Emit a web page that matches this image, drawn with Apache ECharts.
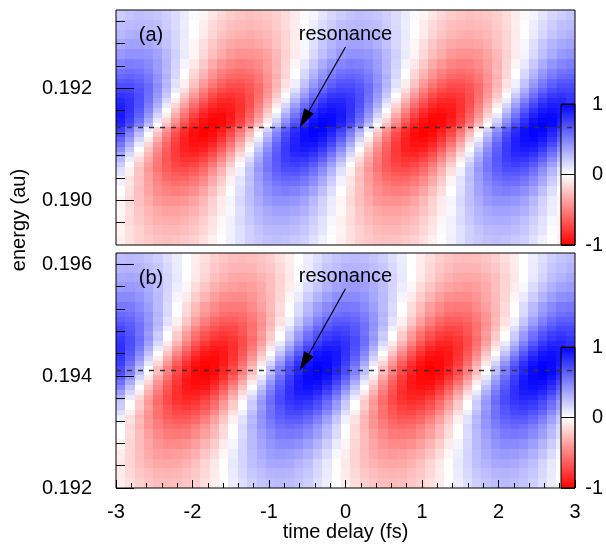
<!DOCTYPE html>
<html>
<head>
<meta charset="utf-8">
<title>Transient absorption near resonance</title>
<script src="https://cdn.jsdelivr.net/npm/echarts@6/dist/echarts.min.js"></script>
<style>
  html, body { margin: 0; padding: 0; background: #fff; }
  #chart { width: 606px; height: 548px; }
</style>
</head>
<body>
<div id="chart"></div>
<script>
// ---- data -------------------------------------------------------------
// time delay axis (fs)
const delayRange = [-3, 3];

// panel (a): delay samples (fs), energy samples (au, finer near the resonance)
// and the normalised signal, one row per energy sample (bottom to top)
const delaysA = [-2.94,-2.82,-2.70,-2.58,-2.46,-2.34,-2.22,-2.10,-1.98,-1.86,-1.74,-1.62,-1.50,-1.38,-1.26,-1.14,-1.02,-0.90,-0.78,-0.66,-0.54,-0.42,-0.30,-0.18,-0.06,0.06,0.18,0.30,0.42,0.54,0.66,0.78,0.90,1.02,1.14,1.26,1.38,1.50,1.62,1.74,1.86,1.98,2.10,2.22,2.34,2.46,2.58,2.70,2.82,2.94];
const energiesA = [0.1892875,0.1894625,0.1896375,0.1898125,0.1899875,0.1901625,
  0.19029375,0.19038125,0.19046875,0.19055625,0.19064375,0.19073125,0.19081875,0.19090625,0.19099375,0.19108125,0.19116875,0.19125625,
  0.19134375,0.19143125,0.19151875,0.19160625,0.19169375,0.19178125,0.19186875,0.19195625,0.19204375,0.19213125,0.19221875,0.19230625,
  0.1924375,0.1926125,0.1927875,0.1929625,0.1931375,0.1933125];
const energyRangeA = [0.1892, 0.1934];
const resonanceA = 0.1913;
const signalA = [
  [-.06,-.12,-.18,-.21,-.24,-.25,-.24,-.21,-.18,-.12,-.06,0,.06,.12,.18,.21,.24,.25,.24,.21,.18,.12,.06,0,-.06,-.12,-.18,-.21,-.24,-.25,-.24,-.21,-.18,-.12,-.06,0,.06,.12,.18,.21,.24,.25,.24,.21,.18,.12,.06,0,-.06,-.12],
  [-.05,-.12,-.18,-.23,-.27,-.28,-.28,-.26,-.22,-.16,-.10,-.02,.05,.12,.18,.23,.27,.28,.28,.26,.22,.16,.10,.02,-.05,-.12,-.18,-.23,-.27,-.28,-.28,-.26,-.22,-.16,-.10,-.02,.05,.12,.18,.23,.27,.28,.28,.26,.22,.16,.10,.02,-.05,-.12],
  [-.06,-.14,-.21,-.27,-.31,-.32,-.32,-.30,-.25,-.19,-.11,-.03,.06,.14,.21,.27,.31,.32,.32,.30,.25,.19,.11,.03,-.06,-.14,-.21,-.27,-.31,-.32,-.32,-.30,-.25,-.19,-.11,-.03,.06,.14,.21,.27,.31,.32,.32,.30,.25,.19,.11,.03,-.06,-.14],
  [-.03,-.13,-.22,-.29,-.34,-.37,-.37,-.35,-.31,-.24,-.16,-.07,.03,.13,.22,.29,.34,.37,.37,.35,.31,.24,.16,.07,-.03,-.13,-.22,-.29,-.34,-.37,-.37,-.35,-.31,-.24,-.16,-.07,.03,.13,.22,.29,.34,.37,.37,.35,.31,.24,.16,.07,-.03,-.13],
  [-.04,-.15,-.25,-.33,-.40,-.43,-.43,-.41,-.36,-.28,-.18,-.08,.04,.15,.25,.33,.40,.43,.43,.41,.36,.28,.18,.08,-.04,-.15,-.25,-.33,-.40,-.43,-.43,-.41,-.36,-.28,-.18,-.08,.04,.15,.25,.33,.40,.43,.43,.41,.36,.28,.18,.08,-.04,-.15],
  [0,-.13,-.25,-.36,-.44,-.49,-.51,-.49,-.44,-.36,-.25,-.13,0,.13,.25,.36,.44,.49,.51,.49,.44,.36,.25,.13,0,-.13,-.25,-.36,-.44,-.49,-.51,-.49,-.44,-.36,-.25,-.13,0,.13,.25,.36,.44,.49,.51,.49,.44,.36,.25,.13,0,-.13],
  [.05,-.10,-.24,-.37,-.47,-.53,-.57,-.56,-.52,-.44,-.33,-.19,-.05,.10,.24,.37,.47,.53,.57,.56,.52,.44,.33,.19,.05,-.10,-.24,-.37,-.47,-.53,-.57,-.56,-.52,-.44,-.33,-.19,-.05,.10,.24,.37,.47,.53,.57,.56,.52,.44,.33,.19,.05,-.10],
  [.05,-.11,-.26,-.39,-.50,-.58,-.61,-.60,-.55,-.47,-.35,-.21,-.05,.11,.26,.39,.50,.58,.61,.60,.55,.47,.35,.21,.05,-.11,-.26,-.39,-.50,-.58,-.61,-.60,-.55,-.47,-.35,-.21,-.05,.11,.26,.39,.50,.58,.61,.60,.55,.47,.35,.21,.05,-.11],
  [.11,-.06,-.23,-.38,-.50,-.60,-.65,-.66,-.62,-.54,-.42,-.28,-.11,.06,.23,.38,.50,.60,.65,.66,.62,.54,.42,.28,.11,-.06,-.23,-.38,-.50,-.60,-.65,-.66,-.62,-.54,-.42,-.28,-.11,.06,.23,.38,.50,.60,.65,.66,.62,.54,.42,.28,.11,-.06],
  [.12,-.06,-.24,-.41,-.54,-.64,-.70,-.70,-.66,-.58,-.45,-.30,-.12,.06,.24,.41,.54,.64,.70,.70,.66,.58,.45,.30,.12,-.06,-.24,-.41,-.54,-.64,-.70,-.70,-.66,-.58,-.45,-.30,-.12,.06,.24,.41,.54,.64,.70,.70,.66,.58,.45,.30,.12,-.06],
  [.20,0,-.20,-.38,-.53,-.65,-.73,-.76,-.73,-.65,-.53,-.38,-.20,0,.20,.38,.53,.65,.73,.76,.73,.65,.53,.38,.20,0,-.20,-.38,-.53,-.65,-.73,-.76,-.73,-.65,-.53,-.38,-.20,0,.20,.38,.53,.65,.73,.76,.73,.65,.53,.38,.20,0],
  [.28,.07,-.14,-.34,-.52,-.66,-.76,-.80,-.79,-.73,-.62,-.46,-.28,-.07,.14,.34,.52,.66,.76,.80,.79,.73,.62,.46,.28,.07,-.14,-.34,-.52,-.66,-.76,-.80,-.79,-.73,-.62,-.46,-.28,-.07,.14,.34,.52,.66,.76,.80,.79,.73,.62,.46,.28,.07],
  [.36,.15,-.07,-.29,-.49,-.65,-.77,-.84,-.85,-.80,-.70,-.55,-.36,-.15,.07,.29,.49,.65,.77,.84,.85,.80,.70,.55,.36,.15,-.07,-.29,-.49,-.65,-.77,-.84,-.85,-.80,-.70,-.55,-.36,-.15,.07,.29,.49,.65,.77,.84,.85,.80,.70,.55,.36,.15],
  [.45,.23,0,-.23,-.45,-.63,-.78,-.87,-.90,-.87,-.78,-.63,-.45,-.23,0,.23,.45,.63,.78,.87,.90,.87,.78,.63,.45,.23,0,-.23,-.45,-.63,-.78,-.87,-.90,-.87,-.78,-.63,-.45,-.23,0,.23,.45,.63,.78,.87,.90,.87,.78,.63,.45,.23],
  [.54,.32,.08,-.16,-.40,-.60,-.77,-.88,-.93,-.92,-.85,-.72,-.54,-.32,-.08,.16,.40,.60,.77,.88,.93,.92,.85,.72,.54,.32,.08,-.16,-.40,-.60,-.77,-.88,-.93,-.92,-.85,-.72,-.54,-.32,-.08,.16,.40,.60,.77,.88,.93,.92,.85,.72,.54,.32],
  [.62,.41,.17,-.08,-.33,-.55,-.74,-.87,-.95,-.96,-.91,-.79,-.62,-.41,-.17,.08,.33,.55,.74,.87,.95,.96,.91,.79,.62,.41,.17,-.08,-.33,-.55,-.74,-.87,-.95,-.96,-.91,-.79,-.62,-.41,-.17,.08,.33,.55,.74,.87,.95,.96,.91,.79,.62,.41],
  [.70,.49,.26,0,-.26,-.49,-.70,-.85,-.95,-.99,-.95,-.85,-.70,-.49,-.26,0,.26,.49,.70,.85,.95,.99,.95,.85,.70,.49,.26,0,-.26,-.49,-.70,-.85,-.95,-.99,-.95,-.85,-.70,-.49,-.26,0,.26,.49,.70,.85,.95,.99,.95,.85,.70,.49],
  [.76,.57,.34,.09,-.17,-.42,-.64,-.82,-.94,-.99,-.98,-.90,-.76,-.57,-.34,-.09,.17,.42,.64,.82,.94,.99,.98,.90,.76,.57,.34,.09,-.17,-.42,-.64,-.82,-.94,-.99,-.98,-.90,-.76,-.57,-.34,-.09,.17,.42,.64,.82,.94,.99,.98,.90,.76,.57],
  [.86,.71,.50,.26,0,-.26,-.50,-.71,-.86,-.96,-1,-.96,-.86,-.71,-.50,-.26,0,.26,.50,.71,.86,.96,1,.96,.86,.71,.50,.26,0,-.26,-.50,-.71,-.86,-.96,-1,-.96,-.86,-.71,-.50,-.26,0,.26,.50,.71,.86,.96,1,.96,.86,.71],
  [.89,.76,.57,.34,.09,-.17,-.42,-.63,-.81,-.93,-.98,-.97,-.89,-.76,-.57,-.34,-.09,.17,.42,.63,.81,.93,.98,.97,.89,.76,.57,.34,.09,-.17,-.42,-.63,-.81,-.93,-.98,-.97,-.89,-.76,-.57,-.34,-.09,.17,.42,.63,.81,.93,.98,.97,.89,.76],
  [.91,.79,.62,.41,.17,-.08,-.33,-.55,-.74,-.87,-.95,-.96,-.91,-.79,-.62,-.41,-.17,.08,.33,.55,.74,.87,.95,.96,.91,.79,.62,.41,.17,-.08,-.33,-.55,-.74,-.87,-.95,-.96,-.91,-.79,-.62,-.41,-.17,.08,.33,.55,.74,.87,.95,.96,.91,.79],
  [.90,.81,.66,.47,.24,0,-.24,-.47,-.66,-.81,-.90,-.93,-.90,-.81,-.66,-.47,-.24,0,.24,.47,.66,.81,.90,.93,.90,.81,.66,.47,.24,0,-.24,-.47,-.66,-.81,-.90,-.93,-.90,-.81,-.66,-.47,-.24,0,.24,.47,.66,.81,.90,.93,.90,.81],
  [.88,.81,.69,.51,.31,.08,-.16,-.38,-.58,-.73,-.84,-.89,-.88,-.81,-.69,-.51,-.31,-.08,.16,.38,.58,.73,.84,.89,.88,.81,.69,.51,.31,.08,-.16,-.38,-.58,-.73,-.84,-.89,-.88,-.81,-.69,-.51,-.31,-.08,.16,.38,.58,.73,.84,.89,.88,.81],
  [.85,.80,.70,.55,.36,.15,-.07,-.29,-.49,-.65,-.77,-.84,-.85,-.80,-.70,-.55,-.36,-.15,.07,.29,.49,.65,.77,.84,.85,.80,.70,.55,.36,.15,-.07,-.29,-.49,-.65,-.77,-.84,-.85,-.80,-.70,-.55,-.36,-.15,.07,.29,.49,.65,.77,.84,.85,.80],
  [.80,.78,.70,.57,.40,.21,0,-.21,-.40,-.57,-.70,-.78,-.80,-.78,-.70,-.57,-.40,-.21,0,.21,.40,.57,.70,.78,.80,.78,.70,.57,.40,.21,0,-.21,-.40,-.57,-.70,-.78,-.80,-.78,-.70,-.57,-.40,-.21,0,.21,.40,.57,.70,.78,.80,.78],
  [.75,.74,.68,.58,.43,.26,.07,-.13,-.32,-.49,-.62,-.71,-.75,-.74,-.68,-.58,-.43,-.26,-.07,.13,.32,.49,.62,.71,.75,.74,.68,.58,.43,.26,.07,-.13,-.32,-.49,-.62,-.71,-.75,-.74,-.68,-.58,-.43,-.26,-.07,.13,.32,.49,.62,.71,.75,.74],
  [.70,.70,.66,.58,.45,.30,.12,-.06,-.24,-.41,-.54,-.64,-.70,-.70,-.66,-.58,-.45,-.30,-.12,.06,.24,.41,.54,.64,.70,.70,.66,.58,.45,.30,.12,-.06,-.24,-.41,-.54,-.64,-.70,-.70,-.66,-.58,-.45,-.30,-.12,.06,.24,.41,.54,.64,.70,.70],
  [.65,.66,.62,.54,.42,.28,.11,-.06,-.23,-.38,-.50,-.60,-.65,-.66,-.62,-.54,-.42,-.28,-.11,.06,.23,.38,.50,.60,.65,.66,.62,.54,.42,.28,.11,-.06,-.23,-.38,-.50,-.60,-.65,-.66,-.62,-.54,-.42,-.28,-.11,.06,.23,.38,.50,.60,.65,.66],
  [.59,.61,.59,.53,.43,.31,.16,0,-.16,-.31,-.43,-.53,-.59,-.61,-.59,-.53,-.43,-.31,-.16,0,.16,.31,.43,.53,.59,.61,.59,.53,.43,.31,.16,0,-.16,-.31,-.43,-.53,-.59,-.61,-.59,-.53,-.43,-.31,-.16,0,.16,.31,.43,.53,.59,.61],
  [.55,.57,.55,.49,.40,.28,.15,0,-.15,-.28,-.40,-.49,-.55,-.57,-.55,-.49,-.40,-.28,-.15,0,.15,.28,.40,.49,.55,.57,.55,.49,.40,.28,.15,0,-.15,-.28,-.40,-.49,-.55,-.57,-.55,-.49,-.40,-.28,-.15,0,.15,.28,.40,.49,.55,.57],
  [.48,.51,.50,.46,.39,.29,.17,.04,-.09,-.21,-.33,-.42,-.48,-.51,-.50,-.46,-.39,-.29,-.17,-.04,.09,.21,.33,.42,.48,.51,.50,.46,.39,.29,.17,.04,-.09,-.21,-.33,-.42,-.48,-.51,-.50,-.46,-.39,-.29,-.17,-.04,.09,.21,.33,.42,.48,.51],
  [.40,.43,.43,.41,.36,.28,.18,.08,-.04,-.15,-.25,-.33,-.40,-.43,-.43,-.41,-.36,-.28,-.18,-.08,.04,.15,.25,.33,.40,.43,.43,.41,.36,.28,.18,.08,-.04,-.15,-.25,-.33,-.40,-.43,-.43,-.41,-.36,-.28,-.18,-.08,.04,.15,.25,.33,.40,.43],
  [.34,.37,.37,.35,.31,.24,.16,.07,-.03,-.13,-.22,-.29,-.34,-.37,-.37,-.35,-.31,-.24,-.16,-.07,.03,.13,.22,.29,.34,.37,.37,.35,.31,.24,.16,.07,-.03,-.13,-.22,-.29,-.34,-.37,-.37,-.35,-.31,-.24,-.16,-.07,.03,.13,.22,.29,.34,.37],
  [.28,.31,.33,.31,.28,.23,.16,.08,0,-.08,-.16,-.23,-.28,-.31,-.33,-.31,-.28,-.23,-.16,-.08,0,.08,.16,.23,.28,.31,.33,.31,.28,.23,.16,.08,0,-.08,-.16,-.23,-.28,-.31,-.33,-.31,-.28,-.23,-.16,-.08,0,.08,.16,.23,.28,.31],
  [.25,.27,.28,.27,.25,.20,.14,.07,0,-.07,-.14,-.20,-.25,-.27,-.28,-.27,-.25,-.20,-.14,-.07,0,.07,.14,.20,.25,.27,.28,.27,.25,.20,.14,.07,0,-.07,-.14,-.20,-.25,-.27,-.28,-.27,-.25,-.20,-.14,-.07,0,.07,.14,.20,.25,.27],
  [.20,.23,.25,.24,.22,.19,.14,.08,.02,-.04,-.10,-.16,-.20,-.23,-.25,-.24,-.22,-.19,-.14,-.08,-.02,.04,.10,.16,.20,.23,.25,.24,.22,.19,.14,.08,.02,-.04,-.10,-.16,-.20,-.23,-.25,-.24,-.22,-.19,-.14,-.08,-.02,.04,.10,.16,.20,.23]
];

// panel (b)
const delaysB = [-2.93875,-2.81625,-2.69375,-2.57125,-2.44875,-2.32625,-2.20375,-2.08125,-1.95875,-1.83625,-1.71375,-1.59125,-1.46875,-1.34625,-1.22375,-1.10125,-0.97875,-0.85625,-0.73375,-0.61125,-0.48875,-0.36625,-0.24375,-0.12125,0.00125,0.12375,0.24625,0.36875,0.49125,0.61375,0.73625,0.85875,0.98125,1.10375,1.22625,1.34875,1.47125,1.59375,1.71625,1.83875,1.96125,2.08375,2.20625,2.32875,2.45125,2.57375,2.69625,2.81875,2.94125];
const energiesB = [0.1920875,0.1922625,0.1924375,0.1926125,0.1927875,0.1929625,
  0.19309375,0.19318125,0.19326875,0.19335625,0.19344375,0.19353125,0.19361875,0.19370625,0.19379375,0.19388125,0.19396875,0.19405625,
  0.19414375,0.19423125,0.19431875,0.19440625,0.19449375,0.19458125,0.19466875,0.19475625,0.19484375,0.19493125,0.19501875,0.19510625,
  0.1952375,0.1954125,0.1955875,0.1957625,0.1959375,0.1961125];
const energyRangeB = [0.1920, 0.1962];
const resonanceB = 0.1941;
const signalB = [
  [-.07,-.13,-.19,-.23,-.26,-.27,-.26,-.23,-.19,-.13,-.07,0,.07,.13,.19,.23,.26,.27,.26,.23,.19,.13,.07,0,-.07,-.13,-.19,-.23,-.26,-.27,-.26,-.23,-.19,-.13,-.07,0,.07,.13,.19,.23,.26,.27,.26,.23,.19,.13,.07,0,-.07],
  [-.08,-.15,-.22,-.26,-.29,-.30,-.29,-.26,-.22,-.15,-.08,0,.08,.15,.22,.26,.29,.30,.29,.26,.22,.15,.08,0,-.08,-.15,-.22,-.26,-.29,-.30,-.29,-.26,-.22,-.15,-.08,0,.08,.15,.22,.26,.29,.30,.29,.26,.22,.15,.08,0,-.08],
  [-.09,-.17,-.25,-.30,-.34,-.35,-.34,-.30,-.25,-.17,-.09,0,.09,.17,.25,.30,.34,.35,.34,.30,.25,.17,.09,0,-.09,-.17,-.25,-.30,-.34,-.35,-.34,-.30,-.25,-.17,-.09,0,.09,.17,.25,.30,.34,.35,.34,.30,.25,.17,.09,0,-.09],
  [-.07,-.17,-.26,-.33,-.38,-.40,-.39,-.36,-.31,-.23,-.14,-.03,.07,.17,.26,.33,.38,.40,.39,.36,.31,.23,.14,.03,-.07,-.17,-.26,-.33,-.38,-.40,-.39,-.36,-.31,-.23,-.14,-.03,.07,.17,.26,.33,.38,.40,.39,.36,.31,.23,.14,.03,-.07],
  [-.04,-.16,-.27,-.35,-.42,-.46,-.46,-.44,-.38,-.30,-.20,-.08,.04,.16,.27,.35,.42,.46,.46,.44,.38,.30,.20,.08,-.04,-.16,-.27,-.35,-.42,-.46,-.46,-.44,-.38,-.30,-.20,-.08,.04,.16,.27,.35,.42,.46,.46,.44,.38,.30,.20,.08,-.04],
  [0,-.14,-.27,-.38,-.46,-.52,-.53,-.52,-.46,-.38,-.27,-.14,0,.14,.27,.38,.46,.52,.53,.52,.46,.38,.27,.14,0,-.14,-.27,-.38,-.46,-.52,-.53,-.52,-.46,-.38,-.27,-.14,0,.14,.27,.38,.46,.52,.53,.52,.46,.38,.27,.14,0],
  [0,-.15,-.30,-.42,-.51,-.57,-.59,-.57,-.51,-.42,-.30,-.15,0,.15,.30,.42,.51,.57,.59,.57,.51,.42,.30,.15,0,-.15,-.30,-.42,-.51,-.57,-.59,-.57,-.51,-.42,-.30,-.15,0,.15,.30,.42,.51,.57,.59,.57,.51,.42,.30,.15,0],
  [.06,-.11,-.27,-.41,-.52,-.60,-.63,-.63,-.58,-.49,-.37,-.22,-.06,.11,.27,.41,.52,.60,.63,.63,.58,.49,.37,.22,.06,-.11,-.27,-.41,-.52,-.60,-.63,-.63,-.58,-.49,-.37,-.22,-.06,.11,.27,.41,.52,.60,.63,.63,.58,.49,.37,.22,.06],
  [.06,-.12,-.29,-.44,-.56,-.64,-.68,-.67,-.62,-.52,-.39,-.23,-.06,.12,.29,.44,.56,.64,.68,.67,.62,.52,.39,.23,.06,-.12,-.29,-.44,-.56,-.64,-.68,-.67,-.62,-.52,-.39,-.23,-.06,.12,.29,.44,.56,.64,.68,.67,.62,.52,.39,.23,.06],
  [.13,-.06,-.25,-.42,-.56,-.66,-.72,-.73,-.68,-.60,-.47,-.31,-.13,.06,.25,.42,.56,.66,.72,.73,.68,.60,.47,.31,.13,-.06,-.25,-.42,-.56,-.66,-.72,-.73,-.68,-.60,-.47,-.31,-.13,.06,.25,.42,.56,.66,.72,.73,.68,.60,.47,.31,.13],
  [.20,0,-.20,-.39,-.55,-.67,-.75,-.78,-.75,-.67,-.55,-.39,-.20,0,.20,.39,.55,.67,.75,.78,.75,.67,.55,.39,.20,0,-.20,-.39,-.55,-.67,-.75,-.78,-.75,-.67,-.55,-.39,-.20,0,.20,.39,.55,.67,.75,.78,.75,.67,.55,.39,.20],
  [.21,0,-.21,-.41,-.58,-.71,-.79,-.82,-.79,-.71,-.58,-.41,-.21,0,.21,.41,.58,.71,.79,.82,.79,.71,.58,.41,.21,0,-.21,-.41,-.58,-.71,-.79,-.82,-.79,-.71,-.58,-.41,-.21,0,.21,.41,.58,.71,.79,.82,.79,.71,.58,.41,.21],
  [.30,.08,-.15,-.37,-.56,-.71,-.81,-.86,-.85,-.78,-.66,-.50,-.30,-.08,.15,.37,.56,.71,.81,.86,.85,.78,.66,.50,.30,.08,-.15,-.37,-.56,-.71,-.81,-.86,-.85,-.78,-.66,-.50,-.30,-.08,.15,.37,.56,.71,.81,.86,.85,.78,.66,.50,.30],
  [.38,.16,-.08,-.31,-.52,-.69,-.82,-.89,-.90,-.85,-.74,-.58,-.38,-.16,.08,.31,.52,.69,.82,.89,.90,.85,.74,.58,.38,.16,-.08,-.31,-.52,-.69,-.82,-.89,-.90,-.85,-.74,-.58,-.38,-.16,.08,.31,.52,.69,.82,.89,.90,.85,.74,.58,.38],
  [.47,.24,0,-.24,-.47,-.66,-.81,-.91,-.94,-.91,-.81,-.66,-.47,-.24,0,.24,.47,.66,.81,.91,.94,.91,.81,.66,.47,.24,0,-.24,-.47,-.66,-.81,-.91,-.94,-.91,-.81,-.66,-.47,-.24,0,.24,.47,.66,.81,.91,.94,.91,.81,.66,.47],
  [.56,.33,.08,-.17,-.41,-.62,-.79,-.91,-.96,-.95,-.88,-.74,-.56,-.33,-.08,.17,.41,.62,.79,.91,.96,.95,.88,.74,.56,.33,.08,-.17,-.41,-.62,-.79,-.91,-.96,-.95,-.88,-.74,-.56,-.33,-.08,.17,.41,.62,.79,.91,.96,.95,.88,.74,.56],
  [.64,.42,.17,-.09,-.34,-.57,-.76,-.90,-.97,-.98,-.93,-.81,-.64,-.42,-.17,.09,.34,.57,.76,.90,.97,.98,.93,.81,.64,.42,.17,-.09,-.34,-.57,-.76,-.90,-.97,-.98,-.93,-.81,-.64,-.42,-.17,.09,.34,.57,.76,.90,.97,.98,.93,.81,.64],
  [.71,.50,.26,0,-.26,-.50,-.71,-.86,-.96,-1,-.96,-.86,-.71,-.50,-.26,0,.26,.50,.71,.86,.96,1,.96,.86,.71,.50,.26,0,-.26,-.50,-.71,-.86,-.96,-1,-.96,-.86,-.71,-.50,-.26,0,.26,.50,.71,.86,.96,1,.96,.86,.71],
  [.71,.50,.26,0,-.26,-.50,-.71,-.86,-.96,-1,-.96,-.86,-.71,-.50,-.26,0,.26,.50,.71,.86,.96,1,.96,.86,.71,.50,.26,0,-.26,-.50,-.71,-.86,-.96,-1,-.96,-.86,-.71,-.50,-.26,0,.26,.50,.71,.86,.96,1,.96,.86,.71],
  [.76,.57,.34,.09,-.17,-.42,-.64,-.81,-.93,-.98,-.97,-.90,-.76,-.57,-.34,-.09,.17,.42,.64,.81,.93,.98,.97,.90,.76,.57,.34,.09,-.17,-.42,-.64,-.81,-.93,-.98,-.97,-.90,-.76,-.57,-.34,-.09,.17,.42,.64,.81,.93,.98,.97,.90,.76],
  [.79,.62,.41,.17,-.08,-.33,-.56,-.74,-.88,-.95,-.96,-.91,-.79,-.62,-.41,-.17,.08,.33,.56,.74,.88,.95,.96,.91,.79,.62,.41,.17,-.08,-.33,-.56,-.74,-.88,-.95,-.96,-.91,-.79,-.62,-.41,-.17,.08,.33,.56,.74,.88,.95,.96,.91,.79],
  [.81,.66,.47,.24,0,-.24,-.47,-.66,-.81,-.91,-.94,-.91,-.81,-.66,-.47,-.24,0,.24,.47,.66,.81,.91,.94,.91,.81,.66,.47,.24,0,-.24,-.47,-.66,-.81,-.91,-.94,-.91,-.81,-.66,-.47,-.24,0,.24,.47,.66,.81,.91,.94,.91,.81],
  [.82,.69,.52,.31,.08,-.16,-.38,-.58,-.74,-.85,-.90,-.89,-.82,-.69,-.52,-.31,-.08,.16,.38,.58,.74,.85,.90,.89,.82,.69,.52,.31,.08,-.16,-.38,-.58,-.74,-.85,-.90,-.89,-.82,-.69,-.52,-.31,-.08,.16,.38,.58,.74,.85,.90,.89,.82],
  [.81,.71,.56,.37,.15,-.08,-.30,-.50,-.66,-.78,-.85,-.86,-.81,-.71,-.56,-.37,-.15,.08,.30,.50,.66,.78,.85,.86,.81,.71,.56,.37,.15,-.08,-.30,-.50,-.66,-.78,-.85,-.86,-.81,-.71,-.56,-.37,-.15,.08,.30,.50,.66,.78,.85,.86,.81],
  [.79,.71,.58,.41,.21,0,-.21,-.41,-.58,-.71,-.79,-.82,-.79,-.71,-.58,-.41,-.21,0,.21,.41,.58,.71,.79,.82,.79,.71,.58,.41,.21,0,-.21,-.41,-.58,-.71,-.79,-.82,-.79,-.71,-.58,-.41,-.21,0,.21,.41,.58,.71,.79,.82,.79],
  [.75,.67,.55,.39,.20,0,-.20,-.39,-.55,-.67,-.75,-.78,-.75,-.67,-.55,-.39,-.20,0,.20,.39,.55,.67,.75,.78,.75,.67,.55,.39,.20,0,-.20,-.39,-.55,-.67,-.75,-.78,-.75,-.67,-.55,-.39,-.20,0,.20,.39,.55,.67,.75,.78,.75],
  [.72,.66,.56,.42,.25,.06,-.13,-.31,-.47,-.60,-.68,-.73,-.72,-.66,-.56,-.42,-.25,-.06,.13,.31,.47,.60,.68,.73,.72,.66,.56,.42,.25,.06,-.13,-.31,-.47,-.60,-.68,-.73,-.72,-.66,-.56,-.42,-.25,-.06,.13,.31,.47,.60,.68,.73,.72],
  [.68,.64,.56,.44,.29,.12,-.06,-.23,-.39,-.52,-.62,-.67,-.68,-.64,-.56,-.44,-.29,-.12,.06,.23,.39,.52,.62,.67,.68,.64,.56,.44,.29,.12,-.06,-.23,-.39,-.52,-.62,-.67,-.68,-.64,-.56,-.44,-.29,-.12,.06,.23,.39,.52,.62,.67,.68],
  [.63,.60,.52,.41,.27,.11,-.06,-.22,-.37,-.49,-.58,-.63,-.63,-.60,-.52,-.41,-.27,-.11,.06,.22,.37,.49,.58,.63,.63,.60,.52,.41,.27,.11,-.06,-.22,-.37,-.49,-.58,-.63,-.63,-.60,-.52,-.41,-.27,-.11,.06,.22,.37,.49,.58,.63,.63],
  [.59,.57,.51,.42,.30,.15,0,-.15,-.30,-.42,-.51,-.57,-.59,-.57,-.51,-.42,-.30,-.15,0,.15,.30,.42,.51,.57,.59,.57,.51,.42,.30,.15,0,-.15,-.30,-.42,-.51,-.57,-.59,-.57,-.51,-.42,-.30,-.15,0,.15,.30,.42,.51,.57,.59],
  [.53,.52,.46,.38,.27,.14,0,-.14,-.27,-.38,-.46,-.52,-.53,-.52,-.46,-.38,-.27,-.14,0,.14,.27,.38,.46,.52,.53,.52,.46,.38,.27,.14,0,-.14,-.27,-.38,-.46,-.52,-.53,-.52,-.46,-.38,-.27,-.14,0,.14,.27,.38,.46,.52,.53],
  [.46,.46,.42,.35,.27,.16,.04,-.08,-.20,-.30,-.38,-.44,-.46,-.46,-.42,-.35,-.27,-.16,-.04,.08,.20,.30,.38,.44,.46,.46,.42,.35,.27,.16,.04,-.08,-.20,-.30,-.38,-.44,-.46,-.46,-.42,-.35,-.27,-.16,-.04,.08,.20,.30,.38,.44,.46],
  [.39,.40,.38,.33,.26,.17,.07,-.03,-.14,-.23,-.31,-.36,-.39,-.40,-.38,-.33,-.26,-.17,-.07,.03,.14,.23,.31,.36,.39,.40,.38,.33,.26,.17,.07,-.03,-.14,-.23,-.31,-.36,-.39,-.40,-.38,-.33,-.26,-.17,-.07,.03,.14,.23,.31,.36,.39],
  [.34,.35,.34,.30,.25,.17,.09,0,-.09,-.17,-.25,-.30,-.34,-.35,-.34,-.30,-.25,-.17,-.09,0,.09,.17,.25,.30,.34,.35,.34,.30,.25,.17,.09,0,-.09,-.17,-.25,-.30,-.34,-.35,-.34,-.30,-.25,-.17,-.09,0,.09,.17,.25,.30,.34],
  [.29,.30,.29,.26,.22,.15,.08,0,-.08,-.15,-.22,-.26,-.29,-.30,-.29,-.26,-.22,-.15,-.08,0,.08,.15,.22,.26,.29,.30,.29,.26,.22,.15,.08,0,-.08,-.15,-.22,-.26,-.29,-.30,-.29,-.26,-.22,-.15,-.08,0,.08,.15,.22,.26,.29],
  [.26,.27,.26,.23,.19,.13,.07,0,-.07,-.13,-.19,-.23,-.26,-.27,-.26,-.23,-.19,-.13,-.07,0,.07,.13,.19,.23,.26,.27,.26,.23,.19,.13,.07,0,-.07,-.13,-.19,-.23,-.26,-.27,-.26,-.23,-.19,-.13,-.07,0,.07,.13,.19,.23,.26]
];

// tick positions on the energy axes
const majorTicksA = [0.190, 0.192];
const minorTicksA = [0.1896, 0.1904, 0.1908, 0.1912, 0.1916, 0.1924, 0.1928, 0.1932];
const majorTicksB = [0.192, 0.194, 0.196];
const minorTicksB = [0.1924, 0.1928, 0.1932, 0.1936, 0.1944, 0.1948, 0.1952, 0.1956, 0.1960];

// "resonance" annotation: label anchor (delay, energy) and arrow tip delay
const labelDelay = 0;
const arrowTipDelay = -0.60;
const labelEnergyA = 0.19274;
const labelEnergyB = 0.19556;

// ---- helpers ----------------------------------------------------------
const FONT = '"Liberation Sans", Arial, Helvetica, sans-serif';
const font20 = '20px ' + FONT;

// each cell: [delay, energy, value, lower energy edge, upper energy edge]
function cells(delays, energies, range, rows) {
  const edges = [range[0]];
  energies.forEach((e, i) => edges.push(2 * e - edges[i]));
  const out = [];
  energies.forEach((e, i) => {
    delays.forEach((t, k) => out.push([t, e, rows[i][k], edges[i], edges[i + 1]]));
  });
  return out;
}

function cellRenderer(delays) {
  const hd = (delays[1] - delays[0]) / 2;
  return function (params, api) {
    const t = api.value(0);
    const p0 = api.coord([t - hd, api.value(4)]);
    const p1 = api.coord([t + hd, api.value(3)]);
    const x0 = Math.round(p0[0]), x1 = Math.round(p1[0]);
    const y0 = Math.round(p0[1]), y1 = Math.round(p1[1]);
    const cs = params.coordSys;
    const shape = echarts.graphic.clipRectByRect(
      { x: x0, y: y0, width: x1 - x0, height: y1 - y0 },
      { x: cs.x, y: cs.y, width: cs.width, height: cs.height }
    );
    if (!shape) return null;
    return { type: 'rect', shape: shape, style: { fill: api.visual('color') } };
  };
}

function annotationRenderer(panelTag) {
  return function (params, api) {
    const a = api.coord([api.value(0), api.value(1)]);
    const b = api.coord([api.value(2), api.value(3)]);
    const dx = b[0] - a[0], dy = b[1] - a[1];
    const len = Math.sqrt(dx * dx + dy * dy);
    const ux = dx / len, uy = dy / len;
    const headLen = 19, headHalf = 5.5;
    const bx = b[0] - ux * headLen, by = b[1] - uy * headLen;
    const cs = params.coordSys;
    return {
      type: 'group',
      children: [
        { type: 'line', shape: { x1: a[0], y1: a[1], x2: bx, y2: by },
          style: { stroke: '#000', lineWidth: 1.2 } },
        { type: 'polygon',
          shape: { points: [[b[0], b[1]], [bx - uy * headHalf, by + ux * headHalf], [bx + uy * headHalf, by - ux * headHalf]] },
          style: { fill: '#000' } },
        { type: 'text', x: a[0], y: a[1] - 12,
          style: { text: 'resonance', font: font20, fill: '#000', align: 'center', verticalAlign: 'middle' } },
        { type: 'text', x: cs.x + 35, y: cs.y + 25,
          style: { text: panelTag, font: font20, fill: '#000', align: 'center', verticalAlign: 'middle' } }
      ]
    };
  };
}

const colorbarFill = new echarts.graphic.LinearGradient(0, 0, 0, 1, [
  { offset: 0, color: '#0000ff' },
  { offset: 0.5, color: '#ffffff' },
  { offset: 1, color: '#ff0000' }
]);

const labelStyle = { fontFamily: FONT, fontSize: 20, color: '#000' };

function energyAxis(gridIndex, range, ticks, long) {
  return {
    type: 'value', gridIndex: gridIndex, position: 'left',
    min: range[0], max: range[1], z: 6,
    axisLine: { show: false, onZero: false },
    splitLine: { show: false },
    axisTick: { show: true, inside: true, length: long ? 18 : 9, customValues: ticks,
                lineStyle: { color: '#000', width: 1 } },
    axisLabel: long
      ? Object.assign({ show: true, margin: 24, customValues: ticks,
                        formatter: v => v.toFixed(3) }, labelStyle)
      : { show: false }
  };
}

function colorbarAxis(gridIndex) {
  return {
    type: 'value', gridIndex: gridIndex, position: 'right',
    min: -1, max: 1, interval: 1, z: 6,
    axisLine: { show: false, onZero: false },
    splitLine: { show: false },
    axisTick: { show: true, inside: true, length: 14, lineStyle: { color: '#000', width: 1 } },
    axisLabel: Object.assign({ show: true, align: 'right', margin: 28 }, labelStyle)
  };
}

function resonanceLine(xi, yi, energy) {
  return {
    type: 'line', xAxisIndex: xi, yAxisIndex: yi, z: 7, silent: true,
    symbol: 'none', animation: false,
    data: [[delayRange[0], energy], [delayRange[1], energy]],
    lineStyle: { color: '#333', width: 1.5, type: [5, 6] }
  };
}

// ---- chart ------------------------------------------------------------
const chart = echarts.init(document.getElementById('chart'), null, { renderer: 'canvas' });

const panelGrid = { left: 116, width: 459, height: 235, show: true, z: 5,
  backgroundColor: 'transparent', borderColor: '#000', borderWidth: 1, outerBoundsMode: 'none' };
const barGrid = { left: 561, width: 14, height: 141, show: true, z: 3,
  backgroundColor: colorbarFill, borderColor: '#000', borderWidth: 1, outerBoundsMode: 'none' };

chart.setOption({
  animation: false,
  backgroundColor: '#fff',
  textStyle: { fontFamily: FONT },
  grid: [
    Object.assign({ top: 10 }, panelGrid),
    Object.assign({ top: 253 }, panelGrid),
    Object.assign({ top: 104 }, barGrid),
    Object.assign({ top: 347 }, barGrid)
  ],
  xAxis: [
    { type: 'value', gridIndex: 0, min: delayRange[0], max: delayRange[1], interval: 1,
      axisLine: { show: false, onZero: false }, axisTick: { show: false }, axisLabel: { show: false }, splitLine: { show: false } },
    { type: 'value', gridIndex: 1, min: delayRange[0], max: delayRange[1], interval: 1, z: 6,
      axisLine: { show: false, onZero: false }, splitLine: { show: false },
      axisTick: { show: true, inside: true, length: 8, lineStyle: { color: '#000', width: 1 } },
      minorTick: { show: true, splitNumber: 5, length: 5, lineStyle: { color: '#000', width: 1 } },
      axisLabel: Object.assign({ show: true, margin: 14 }, labelStyle),
      name: 'time delay (fs)', nameLocation: 'middle', nameGap: 32,
      nameTextStyle: labelStyle },
    { type: 'value', gridIndex: 2, min: 0, max: 1, show: false, axisLine: { onZero: false } },
    { type: 'value', gridIndex: 3, min: 0, max: 1, show: false, axisLine: { onZero: false } }
  ],
  yAxis: [
    energyAxis(0, energyRangeA, majorTicksA, true),
    energyAxis(0, energyRangeA, minorTicksA, false),
    energyAxis(1, energyRangeB, majorTicksB, true),
    energyAxis(1, energyRangeB, minorTicksB, false),
    colorbarAxis(2),
    colorbarAxis(3)
  ],
  visualMap: {
    type: 'continuous', show: false, min: -1, max: 1, dimension: 2,
    seriesIndex: [0, 1],
    inRange: { color: ['#ff0000', '#ffffff', '#0000ff'] }
  },
  graphic: [{
    type: 'text', x: 19.5, y: 220, rotation: Math.PI / 2,
    style: { text: 'energy (au)', font: font20, fill: '#000', align: 'center', verticalAlign: 'middle' }
  }],
  series: [
    { type: 'custom', name: 'signal (a)', xAxisIndex: 0, yAxisIndex: 0, z: 2, silent: true,
      renderItem: cellRenderer(delaysA), encode: { x: 0, y: 1 },
      data: cells(delaysA, energiesA, energyRangeA, signalA) },
    { type: 'custom', name: 'signal (b)', xAxisIndex: 1, yAxisIndex: 2, z: 2, silent: true,
      renderItem: cellRenderer(delaysB), encode: { x: 0, y: 1 },
      data: cells(delaysB, energiesB, energyRangeB, signalB) },
    resonanceLine(0, 0, resonanceA),
    resonanceLine(1, 2, resonanceB),
    { type: 'custom', xAxisIndex: 0, yAxisIndex: 0, z: 8, silent: true,
      renderItem: annotationRenderer('(a)'), encode: { x: [0, 2], y: [1, 3] },
      data: [[labelDelay, labelEnergyA, arrowTipDelay, resonanceA]] },
    { type: 'custom', xAxisIndex: 1, yAxisIndex: 2, z: 8, silent: true,
      renderItem: annotationRenderer('(b)'), encode: { x: [0, 2], y: [1, 3] },
      data: [[labelDelay, labelEnergyB, arrowTipDelay, resonanceB]] }
  ]
});
</script>
</body>
</html>
